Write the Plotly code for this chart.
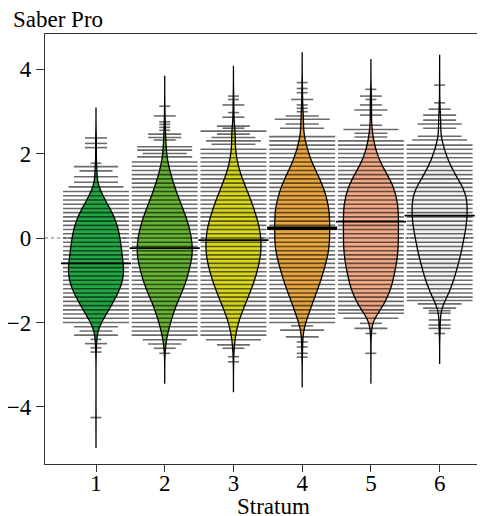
import plotly.graph_objects as go

# ---------------- data ----------------
strata = [1, 2, 3, 4, 5, 6]
tick_labels = ["1", "2", "3", "4", "5", "6"]

# beanline levels (score values) and number of observations on each level
s1_vals = [2.37, 2.24, 2.14, 1.77, 1.69, 1.59, 1.45, 1.32, 1.21,
           1.1, 1.0, 0.9, 0.8, 0.7, 0.6, 0.5, 0.4, 0.3, 0.2,
           0.1, 0.0, -0.1, -0.2, -0.3, -0.4, -0.5, -0.6, -0.7, -0.8,
           -0.9, -1.0, -1.1, -1.2, -1.3, -1.4, -1.5, -1.6, -1.7, -1.8,
           -1.9, -2.0,
           -2.1, -2.2, -2.3, -2.4, -2.5, -2.6, -2.7, -4.25]
s1_cnt = [2, 2, 2, 1, 4, 3, 4, 4, 5,
          16, 21, 27, 34, 42, 49, 56, 60, 64, 67,
          70, 72, 74, 75, 77, 78, 80, 81, 84, 84,
          84, 81, 78, 72, 66, 60, 54, 45, 39, 30,
          24, 18,
          4, 3, 4, 1, 2, 1, 1, 1]

s2_vals = [3.12, 2.89, 2.75, 2.69, 2.62, 2.55, 2.46, 2.38, 2.32, 2.16, 2.08, 2.0, 1.92,
           1.8, 1.7, 1.6, 1.5, 1.4, 1.3, 1.2, 1.1, 1.0, 0.9,
           0.8, 0.7, 0.6, 0.5, 0.4, 0.3, 0.2, 0.1, 0.0, -0.1,
           -0.2, -0.3, -0.4, -0.5, -0.6, -0.7, -0.8, -0.9, -1.0, -1.1,
           -1.2, -1.3, -1.4, -1.5, -1.6, -1.7, -1.8, -1.9, -2.0, -2.1,
           -2.2, -2.3,
           -2.41, -2.51, -2.61, -2.73]
s2_cnt = [1, 2, 1, 1, 1, 1, 3, 3, 2, 5, 5, 4, 5,
          10, 12, 15, 18, 22, 26, 30, 35, 39, 45,
          48, 54, 60, 63, 69, 72, 75, 78, 81, 81,
          84, 84, 84, 81, 78, 75, 72, 69, 66, 60,
          57, 51, 45, 39, 34, 29, 25, 21, 17, 14,
          11, 8,
          4, 3, 2, 1]

s3_vals = [3.36, 3.28, 3.15, 2.97, 2.86, 2.65, 2.6, 2.53, 2.46, 2.38, 2.3, 2.22,
           2.1, 2.0, 1.9, 1.8, 1.7, 1.6, 1.5, 1.4, 1.3, 1.2,
           1.1, 1.0, 0.9, 0.8, 0.7, 0.6, 0.5, 0.4, 0.3, 0.2,
           0.1, 0.0, -0.1, -0.2, -0.3, -0.4, -0.5, -0.6, -0.7, -0.8,
           -0.9, -1.0, -1.1, -1.2, -1.3, -1.4, -1.5, -1.6, -1.7, -1.8,
           -1.9, -2.0, -2.1, -2.2, -2.3,
           -2.41, -2.53, -2.61, -2.81, -2.93]
s3_cnt = [1, 1, 2, 1, 2, 3, 2, 6, 3, 4, 5, 4,
          6, 7, 9, 11, 14, 17, 21, 26, 31, 36,
          41, 46, 51, 55, 60, 64, 67, 71, 75, 78,
          78, 81, 81, 81, 81, 80, 78, 75, 72, 69,
          66, 62, 57, 53, 48, 43, 38, 33, 28, 23,
          18, 14, 11, 8, 6,
          5, 3, 2, 1, 1]

s4_vals = [3.68, 3.54, 3.44, 3.28, 3.15, 3.07, 2.99, 2.89, 2.81, 2.7, 2.6,
           2.4, 2.3, 2.2, 2.1, 2.0, 1.9, 1.8, 1.7, 1.6, 1.5,
           1.4, 1.3, 1.2, 1.1, 1.0, 0.9, 0.8, 0.7, 0.6, 0.5,
           0.4, 0.3, 0.2, 0.1, 0.0, -0.1, -0.2, -0.3, -0.4, -0.5,
           -0.6, -0.7, -0.8, -0.9, -1.0, -1.1, -1.2, -1.3, -1.4, -1.5,
           -1.6, -1.7, -1.8, -1.9, -2.0,
           -2.08, -2.18, -2.34, -2.46, -2.58, -2.73, -2.82]
s4_cnt = [1, 1, 1, 2, 1, 1, 1, 3, 5, 3, 4,
          7, 8, 10, 13, 16, 20, 24, 29, 34, 40,
          45, 50, 54, 58, 61, 64, 66, 68, 70, 70,
          70, 70, 70, 70, 70, 70, 69, 68, 66, 63,
          60, 57, 54, 51, 48, 44, 40, 36, 32, 28,
          24, 20, 16, 13, 10,
          2, 4, 3, 1, 1, 1, 1]

s5_vals = [3.52, 3.36, 3.28, 3.15, 3.03, 2.91, 2.67, 2.57, 2.48, 2.39,
           2.3, 2.2, 2.1, 2.0, 1.9, 1.8, 1.7, 1.6, 1.5, 1.4,
           1.3, 1.2, 1.1, 1.0, 0.9, 0.8, 0.7, 0.6, 0.5, 0.4,
           0.3, 0.2, 0.1, 0.0, -0.1, -0.2, -0.3, -0.4, -0.5, -0.6,
           -0.7, -0.8, -0.9, -1.0, -1.1, -1.2,
           -1.3, -1.4, -1.5, -1.6, -1.7, -1.78, -1.9, -2.02, -2.14, -2.26, -2.73]
s5_cnt = [1, 2, 1, 2, 3, 2, 2, 5, 3, 3,
          8, 10, 12, 15, 19, 24, 30, 36, 43, 50,
          56, 60, 63, 66, 69, 71, 72, 72, 72, 72,
          72, 72, 72, 72, 72, 72, 71, 70, 69, 67,
          65, 63, 60, 58, 56, 53,
          49, 44, 38, 32, 26, 19, 5, 2, 3, 1, 1]

s6_vals = [3.62, 3.2, 3.05, 2.91, 2.79, 2.7, 2.6, 2.41, 2.32,
           2.2, 2.1, 2.0, 1.9, 1.8, 1.7, 1.6, 1.5, 1.4, 1.3,
           1.2, 1.1, 1.0, 0.9, 0.8, 0.7, 0.6, 0.5, 0.4, 0.3,
           0.2, 0.1, 0.0, -0.1, -0.2, -0.3, -0.4, -0.5, -0.6, -0.7,
           -0.8, -0.9, -1.0, -1.1, -1.2,
           -1.3, -1.4, -1.48, -1.56, -1.66, -1.72, -1.78, -1.94, -2.06, -2.14, -2.26]
s6_cnt = [1, 1, 2, 3, 3, 4, 3, 4, 5,
          10, 13, 16, 20, 25, 30, 36, 42, 49, 57,
          64, 70, 74, 75, 75, 75, 75, 75, 74, 73,
          71, 68, 66, 64, 62, 60, 57, 54, 51, 48,
          45, 42, 38, 34, 30,
          26, 20, 14, 4, 3, 2, 2, 2, 2, 2, 1]

group_means = [-0.60, -0.24, -0.05, 0.23, 0.39, 0.53]
overall_mean = 0.0

all_vals = [s1_vals, s2_vals, s3_vals, s4_vals, s5_vals, s6_vals]
all_cnt = [s1_cnt, s2_cnt, s3_cnt, s4_cnt, s5_cnt, s6_cnt]

# ---------------- style ----------------
bean_colors = ["#22a845", "#66b434", "#d8d81e", "#eaa640", "#f2aa88", "#f2f2f2"]
mean_widths = [1.8, 1.8, 1.8, 3.6, 1.8, 1.8]
FONT = "Liberation Serif"
FS = 23
LL = 0.16        # beanline length per observation
MAXLINE = 0.96   # longest beanline
CUT = 0.72       # bean tail beyond data range
BW = 0.19

fig = go.Figure()

# beans
for k, vals, cnt, col in zip(strata, all_vals, all_cnt, bean_colors):
    ys = []
    for v, n in zip(vals, cnt):
        ys += [v] * n
    fig.add_trace(go.Violin(
        x=[k] * len(ys), y=ys, width=0.8, scalegroup="beans", scalemode="width",
        spanmode="manual", span=[min(vals) - CUT, max(vals) + CUT],
        bandwidth=BW, side="both", points=False,
        fillcolor=col, line=dict(color="black", width=1.3),
        box_visible=False, meanline_visible=False, hoverinfo="skip",
        showlegend=False))

# beanlines
bx, by = [], []
for k, vals, cnt in zip(strata, all_vals, all_cnt):
    for v, n in zip(vals, cnt):
        half = min(n * LL, MAXLINE) / 2
        bx += [k - half, k + half, None]
        by += [v, v, None]
fig.add_trace(go.Scatter(x=bx, y=by, mode="lines",
                         line=dict(color="rgba(0,0,0,0.58)", width=1.6),
                         hoverinfo="skip", showlegend=False))

# group mean lines
for k, m, w in zip(strata, group_means, mean_widths):
    fig.add_trace(go.Scatter(x=[k - 0.51, k + 0.51], y=[m, m], mode="lines",
                             line=dict(color="black", width=w),
                             hoverinfo="skip", showlegend=False))

# overall mean (dotted)
fig.add_shape(type="line", xref="paper", x0=0, x1=1, yref="y",
              y0=overall_mean, y1=overall_mean, layer="below",
              line=dict(color="#777777", width=1.2, dash="dot"))

fig.update_layout(
    width=485, height=516,
    margin=dict(l=37, r=8, t=26, b=60, autoexpand=False),
    paper_bgcolor="white", plot_bgcolor="white",
    font=dict(family=FONT, size=FS, color="black"),
    violinmode="overlay",
    showlegend=False,
    xaxis=dict(range=[0.258, 6.66], tickvals=strata, ticktext=tick_labels,
               ticks="outside", ticklen=7, tickwidth=1.2, tickcolor="#333",
               ticklabelstandoff=-9,
               showline=True, linecolor="#333", linewidth=1.3, mirror=True,
               showgrid=False, zeroline=False, automargin=False,
               tickfont=dict(family=FONT, size=FS)),
    yaxis=dict(range=[-5.35, 4.83], tickvals=[-4, -2, 0, 2, 4],
               ticktext=["\u22124", "\u22122", "0", "2", "4"],
               ticks="outside", ticklen=8, tickwidth=1.2, tickcolor="#333",
               showline=True, linecolor="#333", linewidth=1.3,
               showgrid=False, zeroline=False, automargin=False,
               tickfont=dict(family=FONT, size=FS)),
    annotations=[
        dict(text="Saber Pro", xref="paper", yref="paper",
             x=(11 - 45) / 440, y=1 + (34 - 20) / 430,
             xanchor="left", yanchor="middle", showarrow=False,
             font=dict(family=FONT, size=FS)),
        dict(text="Stratum", xref="paper", yref="paper",
             x=(273 - 45) / 440, y=-(506 - 464) / 430,
             xanchor="center", yanchor="middle", showarrow=False,
             borderpad=0,
             font=dict(family=FONT, size=FS)),
    ],
)

fig.write_html("out.html")
